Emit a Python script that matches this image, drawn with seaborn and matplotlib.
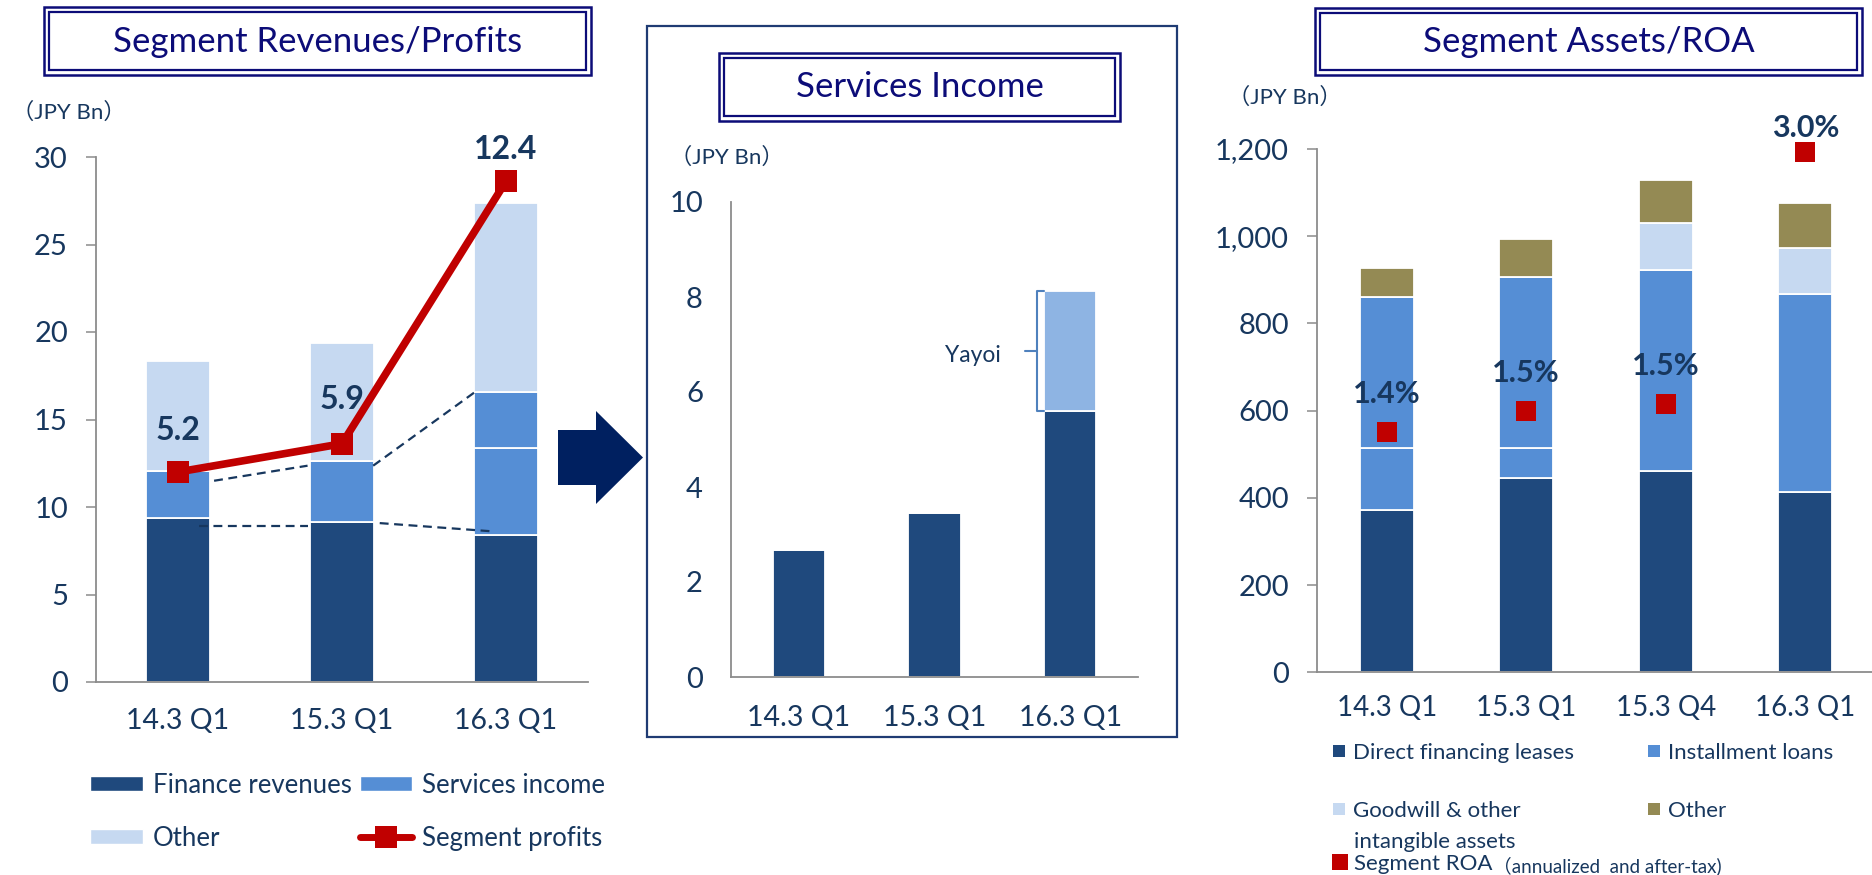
import numpy as np
import matplotlib
matplotlib.use("Agg")
import matplotlib.pyplot as plt
import seaborn as sns
from matplotlib.patches import Rectangle, Polygon, Patch
from matplotlib.lines import Line2D

# ---------------- data ----------------
rev_categories = ["14.3 Q1", "15.3 Q1", "16.3 Q1"]
finance_revenues = [9.35, 9.15, 8.4]
services_income_base = [2.7, 3.5, 4.95]
services_income_added = [0.0, 0.0, 3.2]
other_revenues = [6.3, 6.7, 10.85]
segment_profits = [5.2, 5.9, 12.4]
rev_ticks = [0, 5, 10, 15, 20, 25, 30]

svc_categories = ["14.3 Q1", "15.3 Q1", "16.3 Q1"]
services_existing = [2.67, 3.45, 5.6]
services_yayoi = [0.0, 0.0, 2.53]
svc_ticks = [0, 2, 4, 6, 8, 10]

asset_categories = ["14.3 Q1", "15.3 Q1", "15.3 Q4", "16.3 Q1"]
direct_financing_leases = [371.5, 446.0, 461.6, 414.0]
installment_loans_a = [142.1, 67.6, 460.9, 453.5]
installment_loans_b = [347.4, 393.4, 0.0, 0.0]
goodwill_intangibles = [0.0, 0.0, 108.5, 104.5]
other_assets = [67.0, 86.0, 98.0, 103.5]
segment_roa = [1.38, 1.50, 1.54, 2.98]
asset_ticks = [0, 200, 400, 600, 800, 1000, 1200]

# guide (dashed) lines on left chart: (x0, y0, x1, y1) in data units
guide_lines = [(0.22, 11.5, 0.79, 12.36), (1.19, 12.36, 1.83, 16.7),
               (0.13, 8.9, 0.79, 8.9), (1.23, 9.08, 1.93, 8.6)]

# ---------------- style ----------------
DARK = "#1f497d"
MID = "#558ed5"
LIGHT = "#c6d9f1"
YAYOI = "#8eb4e3"
OLIVE = "#948a54"
RED = "#c00000"
TXT = "#17375e"
TITLE = "#0c0c78"
AXIS = "#8c8c8c"
FRAME = "#1f3b73"

sns.set_style("white")
plt.rcParams["font.family"] = ["Lato", "Noto Sans CJK JP", "DejaVu Sans"]

W, H = 1872, 875
fig = plt.figure(figsize=(W / 100, H / 100), dpi=100)


def fx(x):
    return x / W


def fy(y):
    return 1 - y / H


def axes_px(x0, ytop, x1, ybot):
    return fig.add_axes([fx(x0), fy(ybot), (x1 - x0) / W, (ybot - ytop) / H])


def stack(ax, cats, layers, colors, width):
    bottom = np.zeros(len(cats))
    for vals, col in zip(layers, colors):
        sns.barplot(x=cats, y=vals, bottom=bottom.copy(), color=col, width=width,
                    saturation=1, errorbar=None, edgecolor="white", linewidth=1.3, ax=ax)
        bottom += np.asarray(vals, dtype=float)


def style(ax, cats, ticks, labels, xpad, xsize=20.5):
    n = len(cats)
    ax.set_xlim(-0.5, n - 0.5)
    ax.set_ylim(ticks[0], ticks[-1])
    ax.set_yticks(ticks, labels=labels)
    ax.set_xticks(np.arange(n + 1) - 0.5, labels=[""] * (n + 1))
    ax.set_xticks(np.arange(n), labels=cats, minor=True)
    ax.tick_params(axis="x", which="major", length=6.5, width=1.1, color=AXIS, direction="out")
    ax.tick_params(axis="x", which="minor", length=0, pad=xpad, labelsize=xsize, labelcolor=TXT)
    ax.tick_params(axis="y", length=7.2, width=1.1, color=AXIS, pad=13, labelsize=21,
                   labelcolor=TXT, direction="out")
    for s in ["top", "right"]:
        ax.spines[s].set_visible(False)
    for s in ["left", "bottom"]:
        ax.spines[s].set_color(AXIS)
        ax.spines[s].set_linewidth(1.3)
    ax.set_xlabel("")
    ax.set_ylabel("")
    ax.set_facecolor("none")


def title_box(x0, y0, x1, y1, text, baseline):
    for inset, lw in [(0, 1.8), (5, 1.6)]:
        fig.add_artist(Rectangle((fx(x0 + inset), fy(y1 - inset)),
                                 (x1 - x0 - 2 * inset) / W, (y1 - y0 - 2 * inset) / H,
                                 transform=fig.transFigure, fill=False, ec=TITLE, lw=lw))
    fig.text(fx((x0 + x1) / 2), fy(baseline), text, ha="center", va="baseline",
             fontsize=25, color=TITLE)


# ================= left chart =================
axL = axes_px(96, 157, 588, 682)
stack(axL, rev_categories,
      [finance_revenues, services_income_base, services_income_added, other_revenues],
      [DARK, MID, MID, LIGHT], 0.385)
style(axL, rev_categories, rev_ticks, [str(t) for t in rev_ticks], xpad=19)
for x0, y0, x1, y1 in guide_lines:
    axL.plot([x0, x1], [y0, y1], color=TXT, lw=1.6, ls=(0, (4, 2.5)), zorder=3)

axL2 = axL.twinx()
axL2.set_ylim(0, 13.0)
sns.lineplot(x=np.arange(len(rev_categories)), y=segment_profits, ax=axL2, color=RED, lw=5.5,
             marker="s", markersize=16, markeredgewidth=0, legend=False, clip_on=False)
axL2.axis("off")
for i, (v, off) in enumerate(zip(segment_profits, [30, 32, 23])):
    axL2.annotate(f"{v:.1f}", (i, v), xytext=(0, off), textcoords="offset points",
                  ha="center", va="center", fontsize=23, fontweight="bold", color=TXT)

title_box(44, 7, 591, 75, "Segment Revenues/Profits", 52)
fig.text(fx(12), fy(112), "（JPY Bn）", fontsize=16, color=TXT, ha="left", va="center")

legL = fig.legend(
    handles=[Patch(fc=DARK), Patch(fc=LIGHT), Patch(fc=MID),
             Line2D([], [], color=RED, lw=5, marker="s", markersize=16, markeredgewidth=0)],
    labels=["Finance revenues", "Other", "Services income", "Segment profits"],
    ncol=2, loc="upper left", bbox_to_anchor=(fx(90), fy(773)), frameon=False,
    fontsize=18.5, handlelength=2.05, handleheight=0.52, handletextpad=0.4,
    columnspacing=0.3, labelspacing=1.08, borderpad=0, borderaxespad=0)
for t in legL.get_texts():
    t.set_color(TXT)

# big arrow
arrow_px = [(558, 430), (596, 430), (596, 411), (643, 457.5), (596, 504), (596, 485), (558, 485)]
fig.add_artist(Polygon([(fx(x), fy(y)) for x, y in arrow_px], closed=True,
                       transform=fig.transFigure, fc="#002060", ec="none"))

# ================= middle chart =================
fig.add_artist(Rectangle((fx(647), fy(737)), (1177 - 647) / W, (737 - 26) / H,
                         transform=fig.transFigure, fill=False, ec=FRAME, lw=1.6))
axM = axes_px(731, 202, 1138, 677)
stack(axM, svc_categories, [services_existing, services_yayoi], [DARK, YAYOI], 0.385)
style(axM, svc_categories, svc_ticks, [str(t) for t in svc_ticks], xpad=20)

i3 = len(svc_categories) - 1
base = services_existing[i3]
top = base + services_yayoi[i3]
mid = (base + top) / 2
x_edge = i3 - 0.385 / 2
xb = x_edge - 0.05
xtip = xb - 0.09
axM.plot([x_edge, xb, xb, xtip], [top, top, mid, mid], color="#4f81bd", lw=1.5)
axM.plot([xb, xb, x_edge], [mid, base, base], color="#4f81bd", lw=1.5)
axM.text(xtip - 0.18, mid - 0.1, "Yayoi", ha="right", va="center", fontsize=16.5, color=TXT)

title_box(719, 53, 1120, 121, "Services Income", 97)
fig.text(fx(670), fy(157), "（JPY Bn）", fontsize=16, color=TXT, ha="left", va="center")

# ================= right chart =================
axR = axes_px(1317, 149, 1875, 672.3)
stack(axR, asset_categories,
      [direct_financing_leases, installment_loans_a, installment_loans_b,
       goodwill_intangibles, other_assets],
      [DARK, MID, MID, LIGHT, OLIVE], 0.39)
style(axR, asset_categories, asset_ticks, [f"{t:,}" for t in asset_ticks], xpad=16, xsize=20)

axR2 = axR.twinx()
axR2.set_ylim(0, 3.0)
sns.scatterplot(x=np.arange(len(asset_categories)), y=segment_roa, ax=axR2, marker="s",
                s=207, color=RED, linewidth=0, legend=False, zorder=5, clip_on=False)
axR2.axis("off")
for i, (v, off) in enumerate(zip(segment_roa, [27, 27, 27, 17.5])):
    axR2.annotate(f"{v:.1f}%", (i, v), xytext=(0, off), textcoords="offset points",
                  ha="center", va="center", fontsize=22, fontweight="bold", color=TXT)

title_box(1315, 8, 1862, 75, "Segment Assets/ROA", 52)
fig.text(fx(1228), fy(97), "（JPY Bn）", fontsize=16, color=TXT, ha="left", va="center")


def sq(c, ms=8):
    return Line2D([], [], ls="none", marker="s", markersize=ms, color=c, markeredgewidth=0)


common = dict(loc="upper left", frameon=False, fontsize=16, handlelength=0.7,
              handletextpad=0.3, labelspacing=1.7, borderpad=0, borderaxespad=0)
legA = fig.legend(handles=[sq(DARK), sq(LIGHT)],
                  labels=["Direct financing leases", "Goodwill & other"],
                  bbox_to_anchor=(fx(1331), fy(743)), **common)
legB = fig.legend(handles=[sq(MID), sq(OLIVE)], labels=["Installment loans", "Other"],
                  bbox_to_anchor=(fx(1646), fy(743)), **common)
legC = fig.legend(handles=[sq(RED, 11.5)], labels=["Segment ROA"],
                  bbox_to_anchor=(fx(1332), fy(854)), **common)
for lg in (legA, legB, legC):
    for t in lg.get_texts():
        t.set_color(TXT)
fig.text(fx(1354), fy(842), "intangible assets", fontsize=16, color=TXT, ha="left", va="center")

fig.canvas.draw()
bb = legC.get_texts()[0].get_window_extent()
fig.text(bb.x1 / W, (bb.y0 + bb.y1) / 2 / H - 0.002, "（annualized  and after-tax)",
         fontsize=13.5, color=TXT, ha="left", va="center")

fig.savefig("out.png", dpi=100)
